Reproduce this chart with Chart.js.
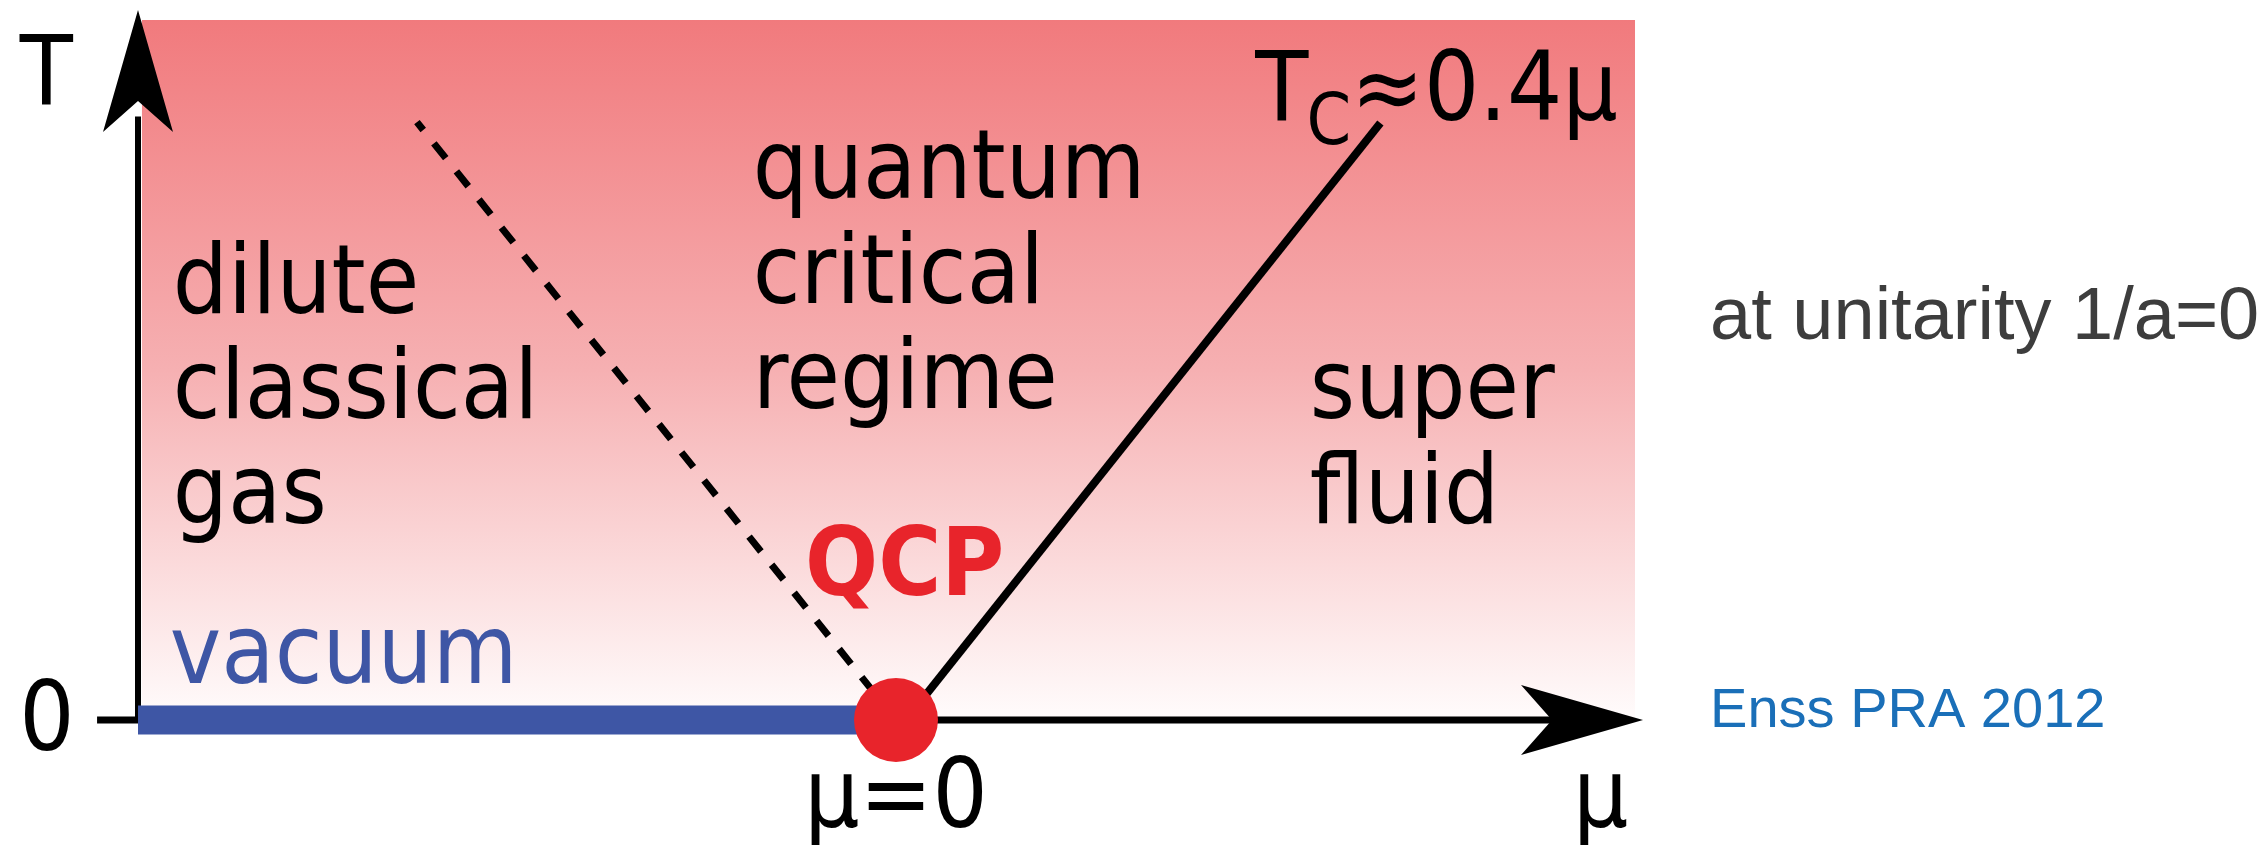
<!DOCTYPE html>
<html>
<head>
<meta charset="utf-8">
<title>Unitary Fermi gas phase diagram</title>
<script src="https://cdn.jsdelivr.net/npm/chart.js@4.4.1/dist/chart.umd.min.js"></script>
<style>
  html, body { margin: 0; padding: 0; background: #fff; }
</style>
</head>
<body>
<canvas id="diagram" width="2263" height="845"></canvas>
<script>
// axis ranges (chemical potential mu, temperature T; arbitrary units)
const muRange = [-1, 1];
const tRange = [0, 1];

// phase boundaries
const vacuumMu = [-1, 0];
const vacuumT = [0, 0];
const tcMu = [0.013, 0.639];
const tcT = [0, 0.841];
const crossoverMu = [0, -0.632];
const crossoverT = [0, 0.842];
const qcpMu = [0];
const qcpT = [0];

// shaded thermal region
const regionMu = [-0.995, 0.975];
const regionT = [0.986, 0.986];

// axes (lines + arrow tips)
const muAxisMu = [-1.054, 0.95];
const muAxisT = [0, 0];
const tAxisMu = [-1, -1];
const tAxisT = [0, 0.85];
const muAxisTip = [0.9855, 0];
const tAxisTip = [-1, 1];

// tick / axis labels
const tickLabels = ["0"];
const axisTitles = ["μ", "T"];

const pts = (xs, ys) => xs.map((x, i) => ({ x, y: ys[i] }));

// text annotations, anchored in data coordinates (first baseline)
const FONT = '"DejaVu Sans", sans-serif';
const SANS = '"Liberation Sans", Arial, sans-serif';
const annotations = [
  { lines: ["dilute", "classical", "gas"], at: [-0.954, 0.573], color: "#000", font: "87px " + FONT },
  { lines: ["quantum", "critical", "regime"], at: [-0.189, 0.735], color: "#000", font: "87px " + FONT },
  { lines: ["super", "fluid"], at: [0.546, 0.425], color: "#000", font: "87px " + FONT },
  { lines: ["vacuum"], at: [-0.958, 0.052], color: "#3e56a5", font: "87px " + FONT },
  { lines: ["QCP"], at: [-0.12, 0.176], color: "#e8242b", font: "bold 86px " + FONT },
  { lines: ["μ=0"], at: [0, -0.151], color: "#000", font: "87px " + FONT, align: "center" },
  { lines: [axisTitles[0]], at: [0.893, -0.151], color: "#000", font: "87px " + FONT },
  { lines: [axisTitles[1]], at: [-1.156, 0.868], color: "#000", font: "87px " + FONT },
  { lines: [tickLabels[0]], at: [-1.12, -0.042], color: "#000", font: "87px " + FONT, align: "center" },
  { lines: ["at unitarity 1/a=0"], at: [1.074, 0.537], color: "#3d3d3d", font: "74px " + SANS, stretch: 1 },
  { lines: ["Enss PRA 2012"], at: [1.074, -0.01], color: "#1a6fb8", font: "56px " + SANS, stretch: 1 }
];
const LINE_GAP = 105;
const TEXT_STRETCH = 1.1; // diagram lettering is slightly tall

function drawArrow(ctx, tx, ty, angle) {
  ctx.save();
  ctx.translate(tx, ty);
  ctx.rotate(angle);
  ctx.beginPath();
  ctx.moveTo(0, 0);
  ctx.lineTo(-122, -35);
  ctx.lineTo(-91, 0);
  ctx.lineTo(-122, 35);
  ctx.closePath();
  ctx.fillStyle = "#000";
  ctx.fill();
  ctx.restore();
}

function tallText(ctx, text, x, y, stretch) {
  ctx.save();
  ctx.translate(x, y);
  ctx.scale(1, stretch);
  ctx.fillText(text, 0, 0);
  ctx.restore();
}

const decorations = {
  id: "decorations",
  afterDatasetsDraw(chart) {
    const { ctx, scales: { x, y } } = chart;
    const px = v => x.getPixelForValue(v);
    const py = v => y.getPixelForValue(v);

    drawArrow(ctx, px(muAxisTip[0]), py(muAxisTip[1]), 0);
    drawArrow(ctx, px(tAxisTip[0]), py(tAxisTip[1]), -Math.PI / 2);

    ctx.save();
    ctx.textBaseline = "alphabetic";
    annotations.forEach(a => {
      ctx.font = a.font;
      ctx.fillStyle = a.color;
      ctx.textAlign = a.align || "left";
      const s = a.stretch || TEXT_STRETCH;
      a.lines.forEach((t, i) => tallText(ctx, t, px(a.at[0]), py(a.at[1]) + i * LINE_GAP, s));
    });

    // T_C ≈ 0.4μ with subscript
    let tx = px(0.474), ty = py(0.845);
    ctx.textAlign = "left";
    ctx.fillStyle = "#000";
    ctx.font = "87px " + FONT;
    tallText(ctx, "T", tx, ty, TEXT_STRETCH);
    tx += ctx.measureText("T").width;
    ctx.font = "64px " + FONT;
    tallText(ctx, "C", tx - 2, ty + 24, TEXT_STRETCH);
    tx += ctx.measureText("C").width - 2;
    ctx.font = "87px " + FONT;
    tallText(ctx, "≈0.4μ", tx, ty, TEXT_STRETCH);
    ctx.restore();
  }
};

function regionGradient(c) {
  const chart = c.chart;
  if (!chart.chartArea) return "rgba(0,0,0,0)";
  const top = chart.scales.y.getPixelForValue(regionT[0]);
  const bottom = chart.scales.y.getPixelForValue(0);
  const g = chart.ctx.createLinearGradient(0, top, 0, bottom);
  g.addColorStop(0, "rgb(241,122,125)");
  g.addColorStop(0.5, "rgb(246,176,178)");
  g.addColorStop(1, "rgb(255,252,252)");
  return g;
}

const line = (data, color, width, extra) => Object.assign({
  data, showLine: true, borderColor: color, borderWidth: width,
  pointRadius: 0, fill: false, clip: false, borderCapStyle: "butt"
}, extra || {});

new Chart(document.getElementById("diagram"), {
  type: "scatter",
  data: {
    datasets: [
      // QCP dot (on top)
      { data: pts(qcpMu, qcpT), pointRadius: 42, backgroundColor: "#e8242b", borderWidth: 0, clip: false, order: 0 },
      line(pts(vacuumMu, vacuumT), "#3e56a5", 29, { order: 1 }),
      line(pts(tcMu, tcT), "#000", 8, { order: 2 }),
      line(pts(crossoverMu, crossoverT), "#000", 7, { borderDash: [19, 17], order: 3 }),
      line(pts(muAxisMu, muAxisT), "#000", 7, { order: 4 }),
      line(pts(tAxisMu, tAxisT), "#000", 6, { order: 5 }),
      line(pts(regionMu, regionT), "rgba(0,0,0,0)", 0, { fill: "origin", backgroundColor: regionGradient, order: 9 })
    ]
  },
  options: {
    responsive: false,
    animation: false,
    events: [],
    devicePixelRatio: 1,
    layout: { autoPadding: false, padding: { left: 138, right: 609, top: 10, bottom: 125 } },
    scales: {
      x: { type: "linear", min: muRange[0], max: muRange[1], display: false },
      y: { type: "linear", min: tRange[0], max: tRange[1], display: false }
    },
    plugins: { legend: { display: false }, tooltip: { enabled: false } }
  },
  plugins: [decorations]
});
</script>
</body>
</html>
